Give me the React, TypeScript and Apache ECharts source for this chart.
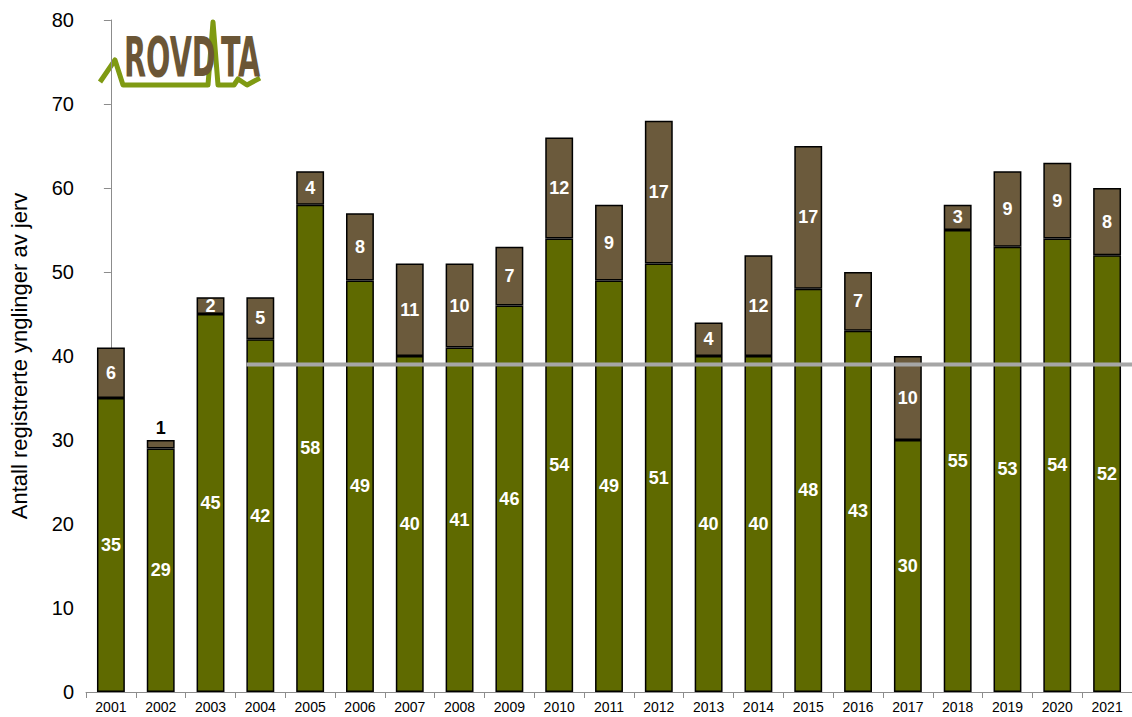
import React, { useEffect, useRef } from "react";
import * as echarts from "echarts";

const years = ["2001","2002","2003","2004","2005","2006","2007","2008","2009","2010","2011","2012","2013","2014","2015","2016","2017","2018","2019","2020","2021"];
const greenValues = [35,29,45,42,58,49,40,41,46,54,49,51,40,40,48,43,30,55,53,54,52];
const brownValues = [6,1,2,5,4,8,11,10,7,12,9,17,4,12,17,7,10,3,9,9,8];
const referenceValue = 39;
const referenceStartYear = "2004";
const yTicks = [0,10,20,30,40,50,60,70,80];

const FONT = "'Liberation Sans', Arial, sans-serif";
const LOGO_FONT = "'Liberation Sans Narrow', 'DejaVu Sans Condensed', 'Liberation Sans', sans-serif";
const BAR_FRAC = 0.56;

export default function App() {
  const ref = useRef<HTMLDivElement>(null);
  useEffect(() => {
    document.body.style.margin = "0";
    document.body.style.overflow = "hidden";
    const chart = echarts.init(ref.current!, null, { renderer: "svg" });
    const startIdx = years.indexOf(referenceStartYear);
    const labelStyle = { show: true, position: "inside", color: "#ffffff", fontWeight: "bold", fontSize: 18, fontFamily: FONT };
    chart.setOption({
      animation: false,
      grid: { left: 85, right: -10, top: 20, bottom: 25, containLabel: false },
      xAxis: [
        {
          type: "category",
          data: years,
          axisLine: { show: true, lineStyle: { color: "#8c8c8c", width: 1 } },
          axisTick: { show: true, interval: 0, length: 6, lineStyle: { color: "#8c8c8c" } },
          axisLabel: { color: "#000", fontSize: 14, fontFamily: FONT, margin: 8, interval: 0 },
        },
        { type: "value", min: -0.5, max: years.length - 0.5, show: false },
      ],
      yAxis: {
        type: "value",
        min: yTicks[0],
        max: yTicks[yTicks.length - 1],
        interval: 10,
        name: "Antall registrerte ynglinger av jerv",
        nameLocation: "middle",
        nameGap: 56,
        nameTextStyle: { color: "#000", fontSize: 22, fontFamily: FONT },
        axisLine: { show: true, lineStyle: { color: "#8c8c8c", width: 1 } },
        axisTick: { show: true, length: 7, inside: false, lineStyle: { color: "#8c8c8c" } },
        axisLabel: { color: "#000", fontSize: 20, fontFamily: FONT, margin: 12 },
        splitLine: { show: false },
      },
      series: [
        {
          type: "bar",
          stack: "s",
          barWidth: BAR_FRAC * 100 + "%",
          data: greenValues,
          itemStyle: { color: "#5f6a00", borderColor: "#000", borderWidth: 1.5 },
          label: labelStyle,
        },
        {
          type: "bar",
          stack: "s",
          barWidth: BAR_FRAC * 100 + "%",
          data: brownValues.map((v) =>
            v < 2
              ? { value: v, label: { show: true, position: "top", color: "#000", fontWeight: "bold", fontSize: 18, fontFamily: FONT, distance: 3 } }
              : v
          ),
          itemStyle: { color: "#6b5a3c", borderColor: "#000", borderWidth: 1.5 },
          label: labelStyle,
        },
        {
          type: "line",
          xAxisIndex: 1,
          z: 5,
          symbol: "none",
          data: [
            [startIdx - BAR_FRAC / 2, referenceValue],
            [years.length - 0.5, referenceValue],
          ],
          lineStyle: { color: "#a6a6a6", width: 4 },
        },
      ],
      graphic: [
        {
          type: "polyline",
          shape: {
            points: [
              [100, 82], [115, 60], [123, 85], [208, 85], [213, 22], [218, 85],
              [234, 85], [238, 79], [247, 85], [260, 78],
            ],
          },
          style: { stroke: "#7f9a12", lineWidth: 5, fill: null, lineJoin: "round" },
        },
        {
          type: "text",
          x: 124,
          y: 29,
          scaleX: 0.57,
          style: { text: "ROVD", fill: "#6b5636", fontSize: 56, fontWeight: "bold", fontFamily: LOGO_FONT },
        },
        {
          type: "text",
          x: 221,
          y: 29,
          scaleX: 0.57,
          style: { text: "TA", fill: "#6b5636", fontSize: 56, fontWeight: "bold", fontFamily: LOGO_FONT },
        },
      ],
    });
    return () => chart.dispose();
  }, []);
  return <div ref={ref} style={{ width: 1132, height: 717 }} />;
}
